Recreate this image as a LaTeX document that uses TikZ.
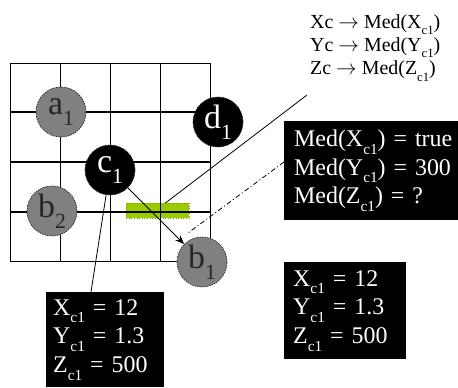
\documentclass[tikz,border=0pt]{standalone}
\usepackage{fontspec}
\setmainfont{Liberation Serif}
\usetikzlibrary{calc,arrows.meta}
\newcommand\lsub[1]{\raisebox{-0.32em}{\scalebox{0.64}{#1}}}
\definecolor{barg}{RGB}{153,204,0}
\definecolor{cgray}{RGB}{128,128,128}
\tikzset{
  gridthin/.style={line width=0.8bp},
  gridthick/.style={line width=1.3bp},
  circ/.style={circle, minimum size=50bp, inner sep=0pt, draw=black!85, dash pattern=on 1.5bp off 1bp, line width=0.7bp, font=\fontsize{34}{34}\selectfont},
  graydot/.style={circ, fill=cgray, text=black!85},
  blackdot/.style={circ, fill=black, text=white},
  infobox/.style={fill=black, text=white, font=\fontsize{24}{28.8}\selectfont, align=left, inner sep=0pt, anchor=north west},
  toptext/.style={font=\fontsize{20}{23.5}\selectfont, align=left, inner sep=0pt, anchor=north west},
  conn/.style={line width=0.8bp},
}
\begin{document}
\begin{tikzpicture}[x=1bp,y=-1bp]
\useasboundingbox (0,0) rectangle (458,387);
\fill[white] (0,0) rectangle (458,387);
% green bar
\node[fill=barg, draw=barg!80!black, dotted, line width=0.6bp, inner sep=0pt, minimum width=63bp, minimum height=15bp, anchor=north west] (green) at (126,203) {};
% grid
\draw[gridthin] (10,63) rectangle (210,261);
\foreach \x in {60,110,160} \draw[gridthin, line width=1bp] (\x,63) -- (\x,261);
\foreach \y in {112,162,212} \draw[gridthick] (10,\y) -- (210,\y);
% circles
\node[graydot] (a1) at (61,112) {a\lsub{1}};
\node[blackdot] (d1) at (218,122) {d\lsub{1}};
\node[blackdot] (c1) at (110,170) {c\lsub{1}};
\node[graydot] (b2) at (52,211) {b\lsub{2}};
\node[graydot] (b1) at (202,262) {b\lsub{1}};
% top text
\node[toptext] (top) at (310,14) {Xc $\rightarrow$ Med(X\lsub{c1})\\Yc $\rightarrow$ Med(Y\lsub{c1})\\Zc $\rightarrow$ Med(Z\lsub{c1})};
% boxes
\node[infobox, minimum width=174bp, minimum height=99bp, text width=160bp, inner xsep=10bp] (med) at (284,121) {Med(X\lsub{c1}) = true\\Med(Y\lsub{c1}) = 300\\Med(Z\lsub{c1}) = ?};
\node[infobox, minimum width=112bp, minimum height=95bp, text width=104bp, inner xsep=7bp] (box1) at (46,292) {X\lsub{c1} = 12\\Y\lsub{c1} = 1.3\\Z\lsub{c1} = 500};
\node[infobox, minimum width=114bp, minimum height=97bp, text width=104bp, inner xsep=9bp] (box2) at (284,262) {X\lsub{c1} = 12\\Y\lsub{c1} = 1.3\\Z\lsub{c1} = 500};
% connectors
\coordinate (ptr) at (307,95);
\coordinate (dend) at (188,233);
\draw[conn] (c1) -- (box1.north west -| 91,0);
\draw[conn, -{Stealth[length=9bp,width=7bp]}] (c1) -- (b1);
\draw[conn] ($(green.north west)!0.62!(green.north east)$) -- (ptr);
\draw[conn, dash pattern=on 5bp off 2.5bp on 1bp off 2.5bp] ($(med.north west)+(0,41)$) -- (dend);
\end{tikzpicture}
\end{document}
